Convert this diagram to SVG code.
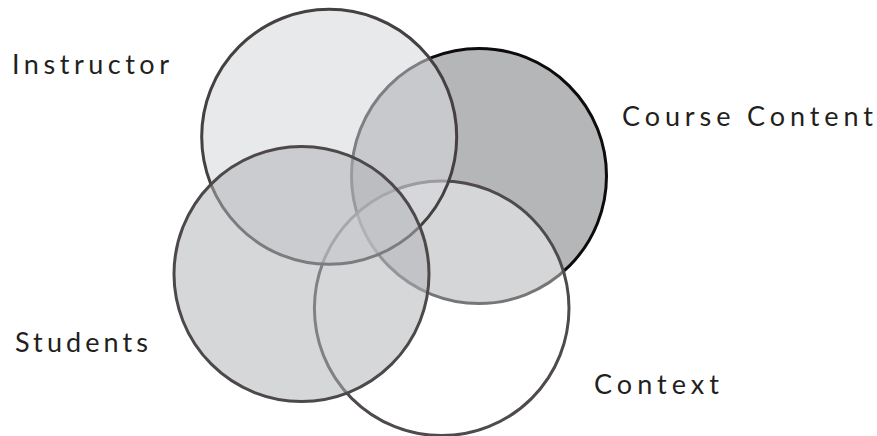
<svg xmlns="http://www.w3.org/2000/svg" width="877" height="436" viewBox="0 0 877 436">
<style>
.lbl{font-family:Lato,"Open Sans","Liberation Sans",sans-serif;font-size:27px;fill:#231f20;}
circle{stroke-width:3;}
</style>
<rect width="877" height="436" fill="#ffffff"/>
<g id="course-content">
<circle cx="479" cy="176" r="127.5" fill="#b5b6b8" stroke="#0d0b0c"/>
</g>
<g id="context">
<circle cx="441.7" cy="308.3" r="127.3" fill="#ffffff" fill-opacity="0.44" stroke="#4f4a4b"/>
</g>
<g id="instructor">
<circle cx="329.2" cy="136.8" r="127.5" fill="#d6d8dc" fill-opacity="0.57" stroke="#454041"/>
</g>
<g id="students">
<circle cx="301.5" cy="274" r="127.5" fill="#b1b3b7" fill-opacity="0.52" stroke="#4d4849"/>
</g>
<g id="connectors"></g>
<g id="labels">
<text class="lbl" x="12" y="74" textLength="157" lengthAdjust="spacing">Instructor</text>
<text class="lbl" x="622" y="126" textLength="251" lengthAdjust="spacing">Course Content</text>
<text class="lbl" x="15" y="352" textLength="133" lengthAdjust="spacing">Students</text>
<text class="lbl" x="594" y="394" textLength="125" lengthAdjust="spacing">Context</text>
</g>
</svg>
